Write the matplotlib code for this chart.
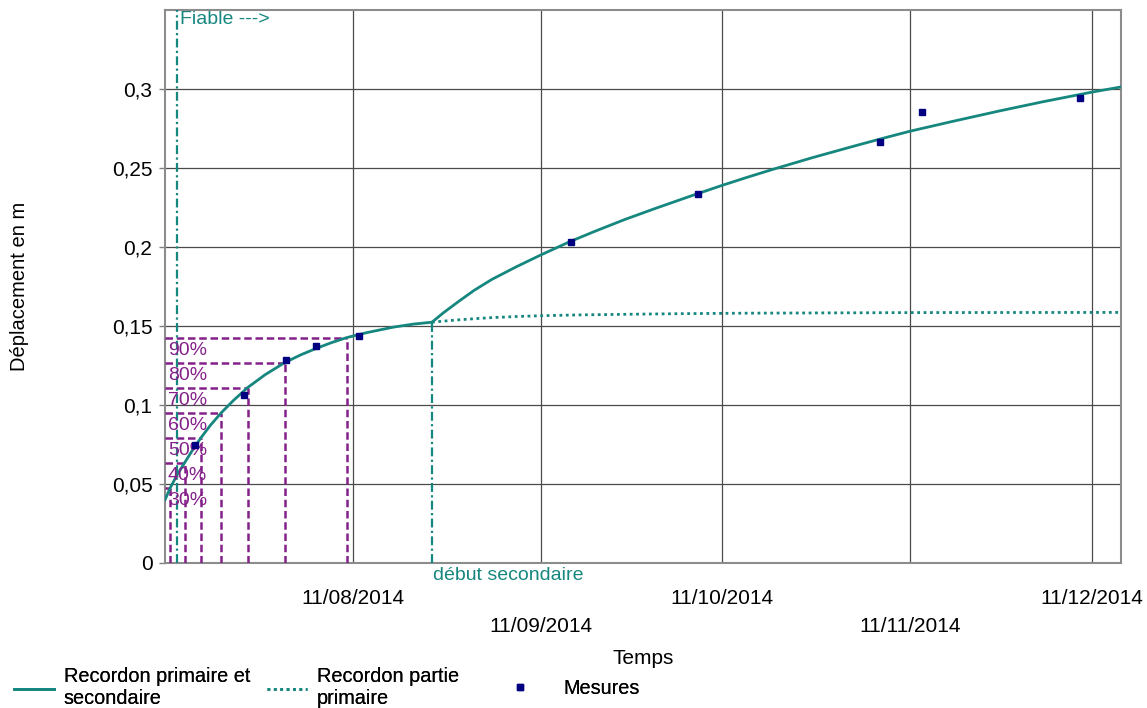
import numpy as np
import matplotlib
matplotlib.use("Agg")
import matplotlib.pyplot as plt
from matplotlib.ticker import FuncFormatter

plt.rcParams['font.family'] = ['Liberation Sans', 'DejaVu Sans']

# time origin of the survey, all times below are days after it
T0 = np.datetime64('2014-07-11T00:00')
X_END = 157.8

# Recordon fit, primary + secondary
fit_days = [0, 0.87, 2, 3.23, 4.5, 5.94, 7.5, 9.29, 11.3, 13.63, 16.5, 19.74,
            22.5, 25.08, 27.5, 30.03, 33.3, 37.72, 41, 44.06,
            46, 48.45, 51, 53.96, 58, 62.05, 66.9, 71, 75.96, 81, 86.96, 91.96,
            96, 100.38, 107, 113.58, 118, 122.99, 130, 137.84, 145, 152.97, 157.8]
fit_disp = [0.040, 0.0476, 0.0558, 0.0634, 0.0712, 0.0793, 0.0872, 0.0951, 0.1029,
            0.1110, 0.1191, 0.1268, 0.1319, 0.1360, 0.1395, 0.1427, 0.1458, 0.1493,
            0.1512, 0.1524,
            0.1585, 0.1655, 0.1725, 0.1795, 0.1875, 0.1950, 0.2035, 0.2100, 0.2175,
            0.2245, 0.2325, 0.2390, 0.2440, 0.2492, 0.2567, 0.2637, 0.2683, 0.2733,
            0.2795, 0.2862, 0.2920, 0.2980, 0.3013]

# primary part only, continued after the start of the secondary phase
prim_days = [44.06, 46, 48.45, 51, 53.96, 58, 62.05, 68, 75.96, 85, 95, 110, 125, 157.8]
prim_disp = [0.1524, 0.1531, 0.1539, 0.1546, 0.1553, 0.1560, 0.1565, 0.1570, 0.1574,
             0.1578, 0.1581, 0.1583, 0.1585, 0.1586]

# measurements
mes_dates = ['2014-07-16', '2014-07-24', '2014-07-31', '2014-08-05', '2014-08-12',
             '2014-09-16', '2014-10-07', '2014-11-06', '2014-11-13', '2014-12-09']
mes_disp = [0.0745, 0.1066, 0.1282, 0.1373, 0.1434, 0.203, 0.2335, 0.2666,
            0.2855, 0.2946]

# consolidation levels of the primary part
prim_final = 0.1585
pct = [30, 40, 50, 60, 70, 80, 90]
pct_days = [0.87, 3.23, 5.94, 9.29, 13.63, 19.74, 30.03]

fiable_day = 2.03
debut_sec_day = 44.06
debut_sec_disp = 0.1524

major_dates = ['2014-08-11', '2014-10-11', '2014-12-11']
minor_dates = ['2014-09-11', '2014-11-11']

TEAL = '#16877f'
PURPLE = '#84208a'
NAVY = '#000080'


def to_dates(days):
    mins = np.round(np.asarray(days, dtype=float) * 24 * 60).astype('timedelta64[m]')
    return T0 + mins


def fr_date(d):
    return f"{d[8:10]}/{d[5:7]}/{d[0:4]}"


fig = plt.figure(figsize=(11.47, 7.08), dpi=100)
ax = fig.add_axes([165 / 1147, 145 / 708, 956 / 1147, 553 / 708])

# purple 30..90% construction lines
for p, d in zip(pct, pct_days):
    lvl = prim_final * p / 100
    ax.plot(to_dates([0, d]), [lvl, lvl], color=PURPLE, lw=1.8,
            linestyle=(0, (3, 1.5)), zorder=3)
    ax.plot(to_dates([d, d]), [0, lvl], color=PURPLE, lw=1.8,
            linestyle=(0, (3, 1.5)), zorder=3)
    ax.annotate(f"{p}%", xy=(0, lvl), xycoords=('axes fraction', 'data'),
                xytext=(2, -3), textcoords='offset points', ha='left', va='top',
                fontsize=14, color=PURPLE, zorder=6)

# reliability limit and start of secondary phase
dash_dot = (0, (4, 1.5, 1, 1.5))
ax.axvline(to_dates([fiable_day])[0], color=TEAL, lw=1.6, linestyle=dash_dot, zorder=4)
ax.annotate("Fiable --->", xy=(to_dates([fiable_day])[0], 0.35),
            xytext=(2, -1), textcoords='offset points', ha='left', va='top',
            fontsize=14, color=TEAL)
ax.plot(to_dates([debut_sec_day, debut_sec_day]), [0, debut_sec_disp], color=TEAL,
        lw=1.6, linestyle=dash_dot, zorder=4)
ax.annotate("début secondaire", xy=(to_dates([debut_sec_day])[0], 0),
            xytext=(1, -3), textcoords='offset points', ha='left', va='top',
            fontsize=14, color=TEAL, annotation_clip=False)

l1, = ax.plot(to_dates(fit_days), fit_disp, color=TEAL, lw=2.0, zorder=5)
l2, = ax.plot(to_dates(prim_days), prim_disp, color=TEAL, lw=2.0,
              linestyle=(0, (1, 1.3)), zorder=5)
l3, = ax.plot(np.array(mes_dates, dtype='datetime64[D]'), mes_disp, 's',
              color=NAVY, ms=5, zorder=7, linestyle='none')

ax.set_xlim(to_dates([0])[0], to_dates([X_END])[0])
ax.set_ylim(0, 0.35)

ax.set_yticks([0, 0.05, 0.1, 0.15, 0.2, 0.25, 0.3])
ax.yaxis.set_major_formatter(FuncFormatter(lambda v, pos: f"{v:g}".replace('.', ',')))

# date labels on two staggered rows
ax.set_xticks(np.array(major_dates, dtype='datetime64[D]'))
ax.set_xticklabels([fr_date(d) for d in major_dates])
ax.set_xticks(np.array(minor_dates, dtype='datetime64[D]'), minor=True)
ax.set_xticklabels([fr_date(d) for d in minor_dates], minor=True)

ax.tick_params(axis='x', which='major', length=0, pad=19, labelsize=15)
ax.tick_params(axis='x', which='minor', length=0, pad=39, labelsize=15)
ax.tick_params(axis='y', length=4, width=1, color='#808080', labelsize=15, pad=5)

ax.grid(True, which='both', axis='x', color='#4a4a4a', lw=0.9)
ax.grid(True, which='major', axis='y', color='#4a4a4a', lw=0.9)
ax.set_axisbelow(True)
for s in ax.spines.values():
    s.set_color('#8c8c8c')
    s.set_linewidth(1.5)

fig.text(20 / 1147, (708 - 286) / 708, "Déplacement en m", rotation=90,
         ha='center', va='center', fontsize=14.5)
fig.text(643 / 1147, (708 - 659) / 708, "Temps", ha='center', va='center', fontsize=15)

# legend, one entry per block along the bottom
leg_y = (708 - 688) / 708
entries = [
    (l1, "Recordon primaire et\nsecondaire", 14 / 1147, 0.5),
    (l2, "Recordon partie\nprimaire", 267 / 1147, 0.5),
    (l3, "Mesures", 500 / 1147, 1.2),
]
for h, lab, x, pad in entries:
    lg = fig.legend([h], [lab], loc='center left', bbox_to_anchor=(x, leg_y),
                    frameon=False, fontsize=14.3, handlelength=2.0,
                    handletextpad=pad, borderpad=0, borderaxespad=0,
                    labelspacing=0)
    fig.add_artist(lg)

fig.savefig("out.png", dpi=100)
